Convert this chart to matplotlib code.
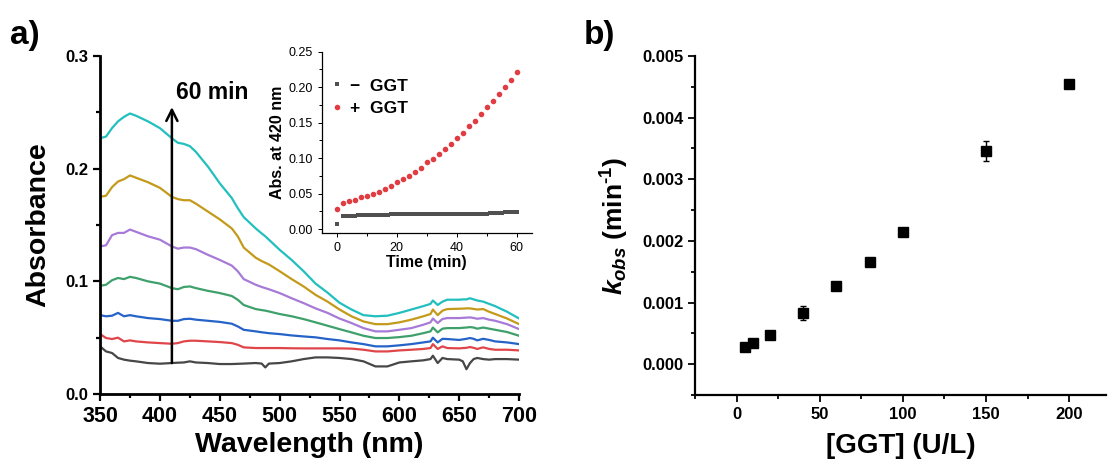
import numpy as np
import matplotlib
matplotlib.use("Agg")
import matplotlib.pyplot as plt
from matplotlib.ticker import MultipleLocator, FormatStrFormatter

plt.rcParams['font.family'] = ['Liberation Sans', 'DejaVu Sans']
plt.rcParams['font.weight'] = 'bold'
plt.rcParams['axes.labelweight'] = 'bold'
plt.rcParams['mathtext.fontset'] = 'custom'
plt.rcParams['mathtext.rm'] = 'Liberation Sans:bold'
plt.rcParams['mathtext.it'] = 'Liberation Sans:italic:bold'

# --------------------------
# Data: UV-vis spectra (0 -> 60 min)
# --------------------------
wavelength = [350, 355, 360, 365, 370, 375, 380, 390, 400, 410, 415, 420, 425, 430,
              440, 450, 460, 465, 470, 480, 485, 488, 491, 500, 510, 520, 530, 540,
              550, 560, 570, 580, 590, 600, 610, 620, 626, 628, 632, 636, 640, 650,
              653, 656, 659, 662, 665, 670, 675, 680, 690, 700]

abs_gray = [0.0423, 0.0378, 0.0364, 0.032, 0.0305, 0.0296, 0.029, 0.0275, 0.0269, 0.0275,
            0.0278, 0.028, 0.029, 0.028, 0.0275, 0.0266, 0.0266, 0.0268, 0.027, 0.0275,
            0.027, 0.0236, 0.027, 0.0275, 0.029, 0.031, 0.0325, 0.0325, 0.032, 0.031,
            0.029, 0.0245, 0.0245, 0.028, 0.029, 0.0299, 0.031, 0.034, 0.0275, 0.032,
            0.031, 0.0305, 0.029, 0.022, 0.0275, 0.031, 0.032, 0.031, 0.0305, 0.031,
            0.031, 0.0305]
abs_red = [0.0532, 0.0497, 0.0488, 0.050, 0.0467, 0.0476, 0.0467, 0.0458, 0.0452, 0.0446,
           0.0452, 0.0467, 0.0473, 0.0473, 0.0467, 0.0461, 0.0452, 0.0437, 0.0414, 0.0408,
           0.0408, 0.0408, 0.0408, 0.0408, 0.0406, 0.0405, 0.0405, 0.0405, 0.0405, 0.0403,
           0.0393, 0.0378, 0.0378, 0.0387, 0.0393, 0.040, 0.0408, 0.0443, 0.040, 0.0423,
           0.0408, 0.0405, 0.0408, 0.041, 0.0417, 0.041, 0.040, 0.0414, 0.040, 0.0393,
           0.0393, 0.0387]
abs_blue = [0.070, 0.069, 0.0695, 0.072, 0.069, 0.070, 0.069, 0.0674, 0.0665, 0.065,
            0.065, 0.0665, 0.0668, 0.066, 0.065, 0.064, 0.0624, 0.060, 0.057, 0.0556,
            0.0548, 0.0544, 0.054, 0.0532, 0.052, 0.0511, 0.0503, 0.0488, 0.0476, 0.0458,
            0.0443, 0.0423, 0.0423, 0.0432, 0.0443, 0.0458, 0.0467, 0.050, 0.0458, 0.049,
            0.0488, 0.048, 0.0485, 0.049, 0.0497, 0.049, 0.0476, 0.049, 0.048, 0.0467,
            0.0458, 0.0443]
abs_green = [0.096, 0.097, 0.101, 0.103, 0.102, 0.104, 0.103, 0.100, 0.098, 0.094,
             0.093, 0.095, 0.0955, 0.094, 0.0916, 0.0896, 0.087, 0.0837, 0.079, 0.0754,
             0.0745, 0.074, 0.0733, 0.071, 0.069, 0.0665, 0.0636, 0.0606, 0.0576, 0.0547,
             0.0517, 0.0497, 0.0497, 0.0505, 0.0517, 0.054, 0.0556, 0.059, 0.0547, 0.058,
             0.0585, 0.0585, 0.0588, 0.059, 0.0594, 0.059, 0.058, 0.059, 0.058, 0.057,
             0.055, 0.0517]
abs_purple = [0.131, 0.132, 0.141, 0.143, 0.143, 0.146, 0.144, 0.140, 0.137, 0.131,
              0.129, 0.130, 0.130, 0.1286, 0.1236, 0.119, 0.114, 0.109, 0.102, 0.097,
              0.095, 0.094, 0.093, 0.0896, 0.085, 0.0807, 0.076, 0.072, 0.067, 0.063,
              0.0585, 0.0556, 0.0556, 0.057, 0.0585, 0.0615, 0.0636, 0.067, 0.063, 0.0666,
              0.0674, 0.0674, 0.0676, 0.0678, 0.068, 0.0675, 0.0668, 0.0674, 0.066, 0.065,
              0.062, 0.0576]
abs_gold = [0.175, 0.176, 0.1836, 0.1886, 0.1907, 0.194, 0.192, 0.188, 0.183, 0.175,
            0.173, 0.172, 0.172, 0.169, 0.162, 0.155, 0.147, 0.140, 0.130, 0.121,
            0.118, 0.1165, 0.115, 0.109, 0.102, 0.0955, 0.088, 0.082, 0.075, 0.069,
            0.0644, 0.062, 0.062, 0.0636, 0.066, 0.069, 0.071, 0.075, 0.070, 0.074,
            0.0754, 0.0757, 0.0758, 0.076, 0.076, 0.0755, 0.075, 0.0754, 0.073, 0.071,
            0.067, 0.062]
abs_cyan = [0.227, 0.2285, 0.236, 0.242, 0.246, 0.249, 0.247, 0.242, 0.236, 0.227,
            0.223, 0.222, 0.220, 0.215, 0.202, 0.187, 0.174, 0.165, 0.157, 0.147,
            0.1425, 0.140, 0.137, 0.128, 0.119, 0.109, 0.098, 0.090, 0.081, 0.075,
            0.070, 0.069, 0.0695, 0.072, 0.075, 0.078, 0.080, 0.083, 0.079, 0.082,
            0.0837, 0.0837, 0.084, 0.084, 0.085, 0.084, 0.083, 0.082, 0.080, 0.078,
            0.073, 0.067]

spectra = [abs_gray, abs_red, abs_blue, abs_green, abs_purple, abs_gold, abs_cyan]
spec_colors = ['#474747', '#e0454a', '#2563c8', '#3ea06a', '#a87ad8', '#c39a1a', '#22bfbf']

# Inset: absorbance at 420 nm vs time
time_plus = list(range(0, 61, 2))
abs420_plus = [0.028, 0.037, 0.040, 0.041, 0.045, 0.046, 0.049, 0.052, 0.057, 0.061,
               0.066, 0.070, 0.075, 0.080, 0.086, 0.094, 0.099, 0.106, 0.113, 0.120,
               0.129, 0.136, 0.145, 0.153, 0.162, 0.172, 0.181, 0.190, 0.200, 0.210,
               0.222]
time_minus = [0] + list(range(2, 61))
abs420_minus = [0.007,
                0.018, 0.019, 0.019, 0.019, 0.019, 0.020, 0.020, 0.020, 0.020, 0.020,
                0.020, 0.020, 0.020, 0.020, 0.020, 0.020, 0.021, 0.021, 0.021, 0.021,
                0.021, 0.021, 0.021, 0.021, 0.021, 0.021, 0.021, 0.021, 0.021, 0.021,
                0.021, 0.021, 0.021, 0.022, 0.022, 0.022, 0.022, 0.022, 0.022, 0.022,
                0.022, 0.022, 0.022, 0.022, 0.022, 0.022, 0.022, 0.022, 0.022, 0.023,
                0.023, 0.023, 0.023, 0.023, 0.024, 0.024, 0.024, 0.024, 0.024]

# Panel b: k_obs vs [GGT]
ggt = [5, 10, 20, 40, 60, 80, 100, 150, 200]
kobs = [0.00027, 0.00034, 0.00047, 0.00083, 0.00126, 0.00166, 0.00214, 0.00346, 0.00455]
kobs_err = [0.00003, 0.00003, 0.00004, 0.00011, 0.00004, 0.00004, 0.00004, 0.00016, 0.00003]


def style_axis(ax, lw=1.6, size=12, weight='bold'):
    for s in ['top', 'right']:
        ax.spines[s].set_visible(False)
    for s in ['left', 'bottom']:
        ax.spines[s].set_linewidth(lw)
    ax.tick_params(which='major', direction='out', length=5, width=lw * 0.8,
                   labelsize=size)
    ax.tick_params(which='minor', direction='out', length=3, width=lw * 0.8)
    for lab in ax.get_xticklabels() + ax.get_yticklabels():
        lab.set_fontweight(weight)


fig = plt.figure(figsize=(11.08, 4.63), dpi=100)

# --------------------------
# Panel a: spectra
# --------------------------
ax1 = fig.add_axes([0.0903, 0.149, 0.3782, 0.730])
for y, c in zip(spectra, spec_colors):
    ax1.plot(wavelength, y, color=c, lw=1.6)
ax1.set_xlim(350, 700)
ax1.set_ylim(0, 0.3)
ax1.xaxis.set_major_locator(MultipleLocator(50))
ax1.xaxis.set_minor_locator(MultipleLocator(25))
ax1.yaxis.set_major_locator(MultipleLocator(0.1))
ax1.yaxis.set_minor_locator(MultipleLocator(0.05))
style_axis(ax1, lw=2.0)
ax1.tick_params(axis='x', labelsize=15.5)
ax1.set_xlabel('Wavelength (nm)', fontsize=20.5, labelpad=4)
ax1.set_ylabel('Absorbance', fontsize=20.5, labelpad=10)
ax1.annotate('', xy=(410, 0.2547), xytext=(410, 0.0275),
             arrowprops=dict(arrowstyle='->', lw=1.8, color='black',
                             mutation_scale=20, shrinkA=0, shrinkB=0))
ax1.text(413.6, 0.262, '60 min', fontsize=16.5, fontweight='bold', va='baseline')
fig.text(0.009, 0.905, 'a)', fontsize=24, fontweight='bold')

# inset
ax2 = fig.add_axes([0.2903, 0.4974, 0.1895, 0.391])
ax2.plot(time_minus, abs420_minus, 's', color='#505050', ms=3.2, mew=0, label='\u2212  GGT')
ax2.plot(time_plus, abs420_plus, 'o', color='#e03c41', ms=4, mew=0, label='+  GGT')
ax2.set_xlim(-5, 65)
ax2.set_ylim(-0.005, 0.25)
ax2.xaxis.set_major_locator(MultipleLocator(20))
ax2.xaxis.set_minor_locator(MultipleLocator(10))
ax2.yaxis.set_major_locator(MultipleLocator(0.05))
ax2.yaxis.set_minor_locator(MultipleLocator(0.025))
style_axis(ax2, lw=0.9, size=9, weight='normal')
ax2.tick_params(which='major', length=3)
ax2.tick_params(which='minor', length=2)
ax2.yaxis.set_major_formatter(FormatStrFormatter('%.2f'))
ax2.set_xlabel('Time (min)', fontsize=11.5, labelpad=1)
ax2.set_ylabel('Abs. at 420 nm', fontsize=11.5, labelpad=2)
ax2.legend(loc='upper left', frameon=False, fontsize=12.5, handlelength=0.6,
           handletextpad=0.45, borderaxespad=0.2, labelspacing=0.45,
           bbox_to_anchor=(0.0, 0.91))

# --------------------------
# Panel b: k_obs
# --------------------------
ax3 = fig.add_axes([0.6273, 0.147, 0.3706, 0.732])
ax3.errorbar(ggt, kobs, yerr=kobs_err, fmt='s', color='black', ms=7,
             capsize=2.5, elinewidth=1, capthick=1)
ax3.set_xlim(-25, 222)
ax3.set_ylim(-0.0005, 0.005)
ax3.xaxis.set_major_locator(MultipleLocator(50))
ax3.xaxis.set_minor_locator(MultipleLocator(25))
ax3.yaxis.set_major_locator(MultipleLocator(0.001))
ax3.yaxis.set_minor_locator(MultipleLocator(0.0005))
ax3.yaxis.set_major_formatter(FormatStrFormatter('%.3f'))
style_axis(ax3, lw=1.6)
ax3.set_xlabel('[GGT] (U/L)', fontsize=20, labelpad=8)
ax3.set_ylabel('$k_{obs}$ (min$^{\\rm \u20101}$)', fontsize=19, labelpad=8)
fig.text(0.527, 0.905, 'b)', fontsize=24, fontweight='bold')

fig.savefig('out.png', dpi=100)
